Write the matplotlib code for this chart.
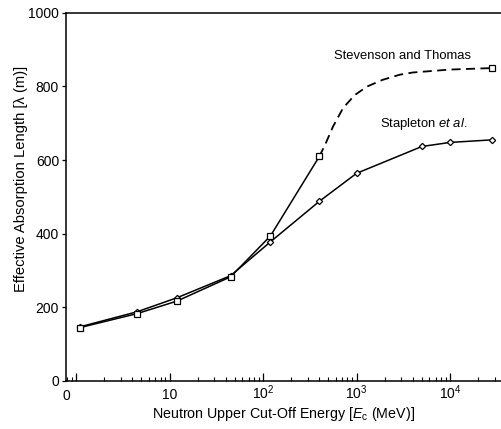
import numpy as np
import matplotlib
matplotlib.use("Agg")
import matplotlib.pyplot as plt
from matplotlib.ticker import LogLocator, NullFormatter

plt.rcParams["font.family"] = ["Liberation Sans", "DejaVu Sans"]
plt.rcParams["mathtext.fontset"] = "custom"
plt.rcParams["mathtext.rm"] = "Liberation Sans"
plt.rcParams["mathtext.it"] = "Liberation Sans:italic"

# Stapleton et al. (diamonds, solid line)
stap_energy = [1.1, 4.5, 12, 45, 120, 400, 1000, 5000, 10000, 28000]
stap_length = [147, 188, 226, 286, 378, 488, 564, 637, 648, 655]

# Stevenson and Thomas (squares): solid part up to 400 MeV, then dashed curve
stev_energy = [1.1, 4.5, 12, 45, 120, 400, 28000]
stev_length = [145, 183, 217, 283, 394, 610, 850]
stev_solid_n = 6
stev_curve_energy = [400, 460, 560, 720, 960, 1300, 1900, 2900, 4000, 10000, 28000]
stev_curve_length = [610, 641, 691, 742, 777, 800, 818, 832, 838, 846, 850]

x_ticks = [0.78, 10, 100, 1000, 10000]
x_ticklabels = ["0", "10", "$10^2$", "$10^3$", "$10^4$"]

fig = plt.figure(figsize=(5.02, 4.29), dpi=100)
ax = fig.add_axes([0.1315, 0.112, 0.8685, 0.858])

ax.plot(stap_energy, stap_length, color="black", lw=1.1,
        marker="D", ms=3.2, mfc="white", mec="black", mew=0.9)
ax.plot(stev_energy[:stev_solid_n], stev_length[:stev_solid_n], color="black", lw=1.1)
ax.plot(stev_curve_energy, stev_curve_length, color="black", lw=1.3, ls=(0, (5, 3)))
ax.plot(stev_energy, stev_length, ls="none",
        marker="s", ms=3.8, mfc="white", mec="black", mew=0.9)

ax.text(3140, 883, "Stevenson and Thomas", ha="center", va="center", fontsize=9.4)
ax.text(5260, 698, "Stapleton $\\mathit{et\\ al.}$", ha="center", va="center", fontsize=9.4)

ax.set_xscale("log")
ax.set_xlim(0.78, 36000)
ax.set_ylim(0, 1000)

# tall tick at 1 without label, "0" written at the left edge
ax.set_xticks([1] + x_ticks[1:])
ax.set_xticklabels([""] + x_ticklabels[1:])
ax.xaxis.set_minor_locator(LogLocator(base=10, subs=np.arange(2, 10)))
ax.xaxis.set_minor_formatter(NullFormatter())
for lab in ax.get_xticklabels():
    lab.set_verticalalignment("baseline")
ax.text(x_ticks[0], -52, x_ticklabels[0], ha="center", va="baseline", fontsize=10)

ax.set_yticks([0, 200, 400, 600, 800, 1000])
ax.tick_params(axis="x", which="major", direction="in", length=6, width=0.9, labelsize=10, pad=13)
ax.tick_params(axis="x", which="minor", direction="in", length=3, width=0.8)
ax.tick_params(axis="y", direction="out", length=3, width=0.9, labelsize=10, pad=2)

ax.spines["right"].set_visible(False)
for s in ["left", "bottom", "top"]:
    ax.spines[s].set_linewidth(1.1)

ax.set_xlabel("Neutron Upper Cut-Off Energy [$E_{\\mathrm{c}}$ (MeV)]", fontsize=10.3, labelpad=2)
ax.set_ylabel("Effective Absorption Length [λ (m)]", fontsize=10.6)
ax.yaxis.set_label_coords(-0.087, 0.55)

fig.savefig("out.png", dpi=100)
